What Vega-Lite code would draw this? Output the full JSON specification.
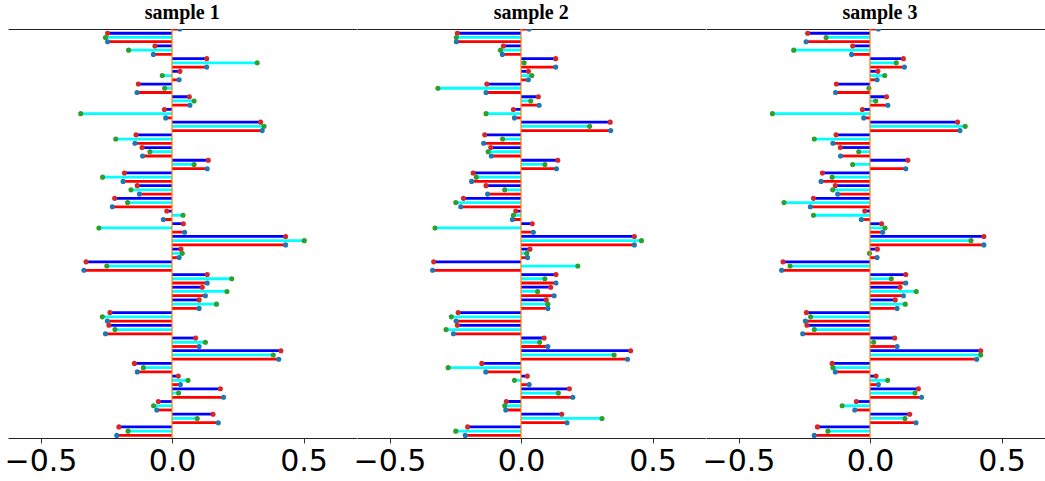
{
"$schema": "https://vega.github.io/schema/vega-lite/v6.json",
"padding": {"left": 4, "top": 3, "right": 0, "bottom": 0},
"bounds": "flush",
"spacing": 0,
"config": {
  "view": {"stroke": null},
  "title": {"font": "Liberation Serif", "fontSize": 20, "fontWeight": "bold", "color": "#000000", "offset": 5, "anchor": "middle"},
  "axis": {"grid": false, "title": null, "domainColor": "#222222", "domainWidth": 1, "tickColor": "#333333"}
},
"datasets": {"d": [
{"s":1,"f":0,"m":"m3","v":0.030},
{"s":1,"f":1,"m":"m1","v":-0.245},{"s":1,"f":1,"m":"m2","v":-0.253},{"s":1,"f":1,"m":"m3","v":-0.245},
{"s":1,"f":2,"m":"m1","v":-0.065},{"s":1,"f":2,"m":"m2","v":-0.165},{"s":1,"f":2,"m":"m3","v":-0.071},
{"s":1,"f":3,"m":"m1","v":0.132},{"s":1,"f":3,"m":"m2","v":0.324},{"s":1,"f":3,"m":"m3","v":0.132},
{"s":1,"f":4,"m":"m1","v":0.030},{"s":1,"f":4,"m":"m2","v":-0.037},{"s":1,"f":4,"m":"m3","v":0.027},
{"s":1,"f":5,"m":"m1","v":-0.128},{"s":1,"f":5,"m":"m2","v":-0.028},{"s":1,"f":5,"m":"m3","v":-0.133},
{"s":1,"f":6,"m":"m1","v":0.066},{"s":1,"f":6,"m":"m2","v":0.084},{"s":1,"f":6,"m":"m3","v":0.068},
{"s":1,"f":7,"m":"m1","v":-0.029},{"s":1,"f":7,"m":"m2","v":-0.347},{"s":1,"f":7,"m":"m3","v":-0.024},
{"s":1,"f":8,"m":"m1","v":0.337},{"s":1,"f":8,"m":"m2","v":0.350},{"s":1,"f":8,"m":"m3","v":0.343},
{"s":1,"f":9,"m":"m1","v":-0.137},{"s":1,"f":9,"m":"m2","v":-0.214},{"s":1,"f":9,"m":"m3","v":-0.141},
{"s":1,"f":10,"m":"m1","v":-0.114},{"s":1,"f":10,"m":"m2","v":-0.084},{"s":1,"f":10,"m":"m3","v":-0.112},
{"s":1,"f":11,"m":"m1","v":0.138},{"s":1,"f":11,"m":"m2","v":0.084},{"s":1,"f":11,"m":"m3","v":0.134},
{"s":1,"f":12,"m":"m1","v":-0.181},{"s":1,"f":12,"m":"m2","v":-0.264},{"s":1,"f":12,"m":"m3","v":-0.186},
{"s":1,"f":13,"m":"m1","v":-0.132},{"s":1,"f":13,"m":"m2","v":-0.156},{"s":1,"f":13,"m":"m3","v":-0.124},
{"s":1,"f":14,"m":"m1","v":-0.218},{"s":1,"f":14,"m":"m2","v":-0.169},{"s":1,"f":14,"m":"m3","v":-0.227},
{"s":1,"f":15,"m":"m1","v":-0.020},{"s":1,"f":15,"m":"m2","v":0.042},{"s":1,"f":15,"m":"m3","v":-0.033},
{"s":1,"f":16,"m":"m1","v":0.043},{"s":1,"f":16,"m":"m2","v":-0.278},{"s":1,"f":16,"m":"m3","v":0.048},
{"s":1,"f":17,"m":"m1","v":0.432},{"s":1,"f":17,"m":"m2","v":0.503},{"s":1,"f":17,"m":"m3","v":0.432},
{"s":1,"f":18,"m":"m1","v":0.034},{"s":1,"f":18,"m":"m2","v":0.039},{"s":1,"f":18,"m":"m3","v":0.027},
{"s":1,"f":19,"m":"m1","v":-0.327},{"s":1,"f":19,"m":"m2","v":-0.248},{"s":1,"f":19,"m":"m3","v":-0.335},
{"s":1,"f":20,"m":"m1","v":0.134},{"s":1,"f":20,"m":"m2","v":0.227},{"s":1,"f":20,"m":"m3","v":0.134},
{"s":1,"f":21,"m":"m1","v":0.115},{"s":1,"f":21,"m":"m2","v":0.209},{"s":1,"f":21,"m":"m3","v":0.127},
{"s":1,"f":22,"m":"m1","v":0.103},{"s":1,"f":22,"m":"m2","v":0.169},{"s":1,"f":22,"m":"m3","v":0.103},
{"s":1,"f":23,"m":"m1","v":-0.236},{"s":1,"f":23,"m":"m2","v":-0.265},{"s":1,"f":23,"m":"m3","v":-0.246},
{"s":1,"f":24,"m":"m1","v":-0.240},{"s":1,"f":24,"m":"m2","v":-0.217},{"s":1,"f":24,"m":"m3","v":-0.253},
{"s":1,"f":25,"m":"m1","v":0.090},{"s":1,"f":25,"m":"m2","v":0.127},{"s":1,"f":25,"m":"m3","v":0.103},
{"s":1,"f":26,"m":"m1","v":0.414},{"s":1,"f":26,"m":"m2","v":0.385},{"s":1,"f":26,"m":"m3","v":0.406},
{"s":1,"f":27,"m":"m1","v":-0.143},{"s":1,"f":27,"m":"m2","v":-0.109},{"s":1,"f":27,"m":"m3","v":-0.132},
{"s":1,"f":28,"m":"m1","v":0.024},{"s":1,"f":28,"m":"m2","v":0.061},{"s":1,"f":28,"m":"m3","v":0.032},
{"s":1,"f":29,"m":"m1","v":0.184},{"s":1,"f":29,"m":"m2","v":0.025},{"s":1,"f":29,"m":"m3","v":0.196},
{"s":1,"f":30,"m":"m1","v":-0.052},{"s":1,"f":30,"m":"m2","v":-0.070},{"s":1,"f":30,"m":"m3","v":-0.058},
{"s":1,"f":31,"m":"m1","v":0.156},{"s":1,"f":31,"m":"m2","v":0.096},{"s":1,"f":31,"m":"m3","v":0.176},
{"s":1,"f":32,"m":"m1","v":-0.202},{"s":1,"f":32,"m":"m2","v":-0.167},{"s":1,"f":32,"m":"m3","v":-0.210},
{"s":2,"f":0,"m":"m3","v":0.031},
{"s":2,"f":1,"m":"m1","v":-0.242},{"s":2,"f":1,"m":"m2","v":-0.246},{"s":2,"f":1,"m":"m3","v":-0.246},
{"s":2,"f":2,"m":"m1","v":-0.067},{"s":2,"f":2,"m":"m2","v":-0.078},{"s":2,"f":2,"m":"m3","v":-0.071},
{"s":2,"f":3,"m":"m1","v":0.132},{"s":2,"f":3,"m":"m2","v":0.012},{"s":2,"f":3,"m":"m3","v":0.132},
{"s":2,"f":4,"m":"m1","v":0.028},{"s":2,"f":4,"m":"m2","v":0.041},{"s":2,"f":4,"m":"m3","v":0.028},
{"s":2,"f":5,"m":"m1","v":-0.130},{"s":2,"f":5,"m":"m2","v":-0.316},{"s":2,"f":5,"m":"m3","v":-0.133},
{"s":2,"f":6,"m":"m1","v":0.066},{"s":2,"f":6,"m":"m2","v":0.037},{"s":2,"f":6,"m":"m3","v":0.069},
{"s":2,"f":7,"m":"m1","v":-0.029},{"s":2,"f":7,"m":"m2","v":-0.133},{"s":2,"f":7,"m":"m3","v":-0.025},
{"s":2,"f":8,"m":"m1","v":0.339},{"s":2,"f":8,"m":"m2","v":0.261},{"s":2,"f":8,"m":"m3","v":0.341},
{"s":2,"f":9,"m":"m1","v":-0.138},{"s":2,"f":9,"m":"m2","v":-0.070},{"s":2,"f":9,"m":"m3","v":-0.142},
{"s":2,"f":10,"m":"m1","v":-0.115},{"s":2,"f":10,"m":"m2","v":-0.125},{"s":2,"f":10,"m":"m3","v":-0.113},
{"s":2,"f":11,"m":"m1","v":0.140},{"s":2,"f":11,"m":"m2","v":0.091},{"s":2,"f":11,"m":"m3","v":0.135},
{"s":2,"f":12,"m":"m1","v":-0.182},{"s":2,"f":12,"m":"m2","v":-0.170},{"s":2,"f":12,"m":"m3","v":-0.188},
{"s":2,"f":13,"m":"m1","v":-0.133},{"s":2,"f":13,"m":"m2","v":-0.062},{"s":2,"f":13,"m":"m3","v":-0.127},
{"s":2,"f":14,"m":"m1","v":-0.219},{"s":2,"f":14,"m":"m2","v":-0.248},{"s":2,"f":14,"m":"m3","v":-0.229},
{"s":2,"f":15,"m":"m1","v":-0.020},{"s":2,"f":15,"m":"m2","v":-0.029},{"s":2,"f":15,"m":"m3","v":-0.033},
{"s":2,"f":16,"m":"m1","v":0.043},{"s":2,"f":16,"m":"m2","v":-0.327},{"s":2,"f":16,"m":"m3","v":0.047},
{"s":2,"f":17,"m":"m1","v":0.431},{"s":2,"f":17,"m":"m2","v":0.458},{"s":2,"f":17,"m":"m3","v":0.431},
{"s":2,"f":18,"m":"m1","v":0.034},{"s":2,"f":18,"m":"m2","v":0.022},{"s":2,"f":18,"m":"m3","v":0.025},
{"s":2,"f":19,"m":"m1","v":-0.332},{"s":2,"f":19,"m":"m2","v":0.216},{"s":2,"f":19,"m":"m3","v":-0.336},
{"s":2,"f":20,"m":"m1","v":0.133},{"s":2,"f":20,"m":"m2","v":0.091},{"s":2,"f":20,"m":"m3","v":0.133},
{"s":2,"f":21,"m":"m1","v":0.113},{"s":2,"f":21,"m":"m2","v":0.063},{"s":2,"f":21,"m":"m3","v":0.126},
{"s":2,"f":22,"m":"m1","v":0.096},{"s":2,"f":22,"m":"m2","v":0.102},{"s":2,"f":22,"m":"m3","v":0.102},
{"s":2,"f":23,"m":"m1","v":-0.239},{"s":2,"f":23,"m":"m2","v":-0.265},{"s":2,"f":23,"m":"m3","v":-0.247},
{"s":2,"f":24,"m":"m1","v":-0.242},{"s":2,"f":24,"m":"m2","v":-0.285},{"s":2,"f":24,"m":"m3","v":-0.257},
{"s":2,"f":25,"m":"m1","v":0.088},{"s":2,"f":25,"m":"m2","v":0.071},{"s":2,"f":25,"m":"m3","v":0.102},
{"s":2,"f":26,"m":"m1","v":0.417},{"s":2,"f":26,"m":"m2","v":0.354},{"s":2,"f":26,"m":"m3","v":0.405},
{"s":2,"f":27,"m":"m1","v":-0.149},{"s":2,"f":27,"m":"m2","v":-0.277},{"s":2,"f":27,"m":"m3","v":-0.134},
{"s":2,"f":28,"m":"m1","v":0.024},{"s":2,"f":28,"m":"m2","v":-0.025},{"s":2,"f":28,"m":"m3","v":0.031},
{"s":2,"f":29,"m":"m1","v":0.184},{"s":2,"f":29,"m":"m2","v":0.142},{"s":2,"f":29,"m":"m3","v":0.197},
{"s":2,"f":30,"m":"m1","v":-0.056},{"s":2,"f":30,"m":"m2","v":-0.062},{"s":2,"f":30,"m":"m3","v":-0.058},
{"s":2,"f":31,"m":"m1","v":0.155},{"s":2,"f":31,"m":"m2","v":0.308},{"s":2,"f":31,"m":"m3","v":0.175},
{"s":2,"f":32,"m":"m1","v":-0.203},{"s":2,"f":32,"m":"m2","v":-0.248},{"s":2,"f":32,"m":"m3","v":-0.212},
{"s":3,"f":0,"m":"m3","v":0.032},
{"s":3,"f":1,"m":"m1","v":-0.237},{"s":3,"f":1,"m":"m2","v":-0.167},{"s":3,"f":1,"m":"m3","v":-0.243},
{"s":3,"f":2,"m":"m1","v":-0.066},{"s":3,"f":2,"m":"m2","v":-0.290},{"s":3,"f":2,"m":"m3","v":-0.070},
{"s":3,"f":3,"m":"m1","v":0.127},{"s":3,"f":3,"m":"m2","v":0.100},{"s":3,"f":3,"m":"m3","v":0.131},
{"s":3,"f":4,"m":"m1","v":0.030},{"s":3,"f":4,"m":"m2","v":0.056},{"s":3,"f":4,"m":"m3","v":0.027},
{"s":3,"f":5,"m":"m1","v":-0.128},{"s":3,"f":5,"m":"m2","v":-0.004},{"s":3,"f":5,"m":"m3","v":-0.131},
{"s":3,"f":6,"m":"m1","v":0.063},{"s":3,"f":6,"m":"m2","v":0.022},{"s":3,"f":6,"m":"m3","v":0.068},
{"s":3,"f":7,"m":"m1","v":-0.029},{"s":3,"f":7,"m":"m2","v":-0.371},{"s":3,"f":7,"m":"m3","v":-0.024},
{"s":3,"f":8,"m":"m1","v":0.333},{"s":3,"f":8,"m":"m2","v":0.362},{"s":3,"f":8,"m":"m3","v":0.342},
{"s":3,"f":9,"m":"m1","v":-0.129},{"s":3,"f":9,"m":"m2","v":-0.212},{"s":3,"f":9,"m":"m3","v":-0.141},
{"s":3,"f":10,"m":"m1","v":-0.113},{"s":3,"f":10,"m":"m2","v":-0.043},{"s":3,"f":10,"m":"m3","v":-0.112},
{"s":3,"f":11,"m":"m1","v":0.144},{"s":3,"f":11,"m":"m2","v":-0.066},{"s":3,"f":11,"m":"m3","v":0.136},
{"s":3,"f":12,"m":"m1","v":-0.181},{"s":3,"f":12,"m":"m2","v":-0.144},{"s":3,"f":12,"m":"m3","v":-0.186},
{"s":3,"f":13,"m":"m1","v":-0.132},{"s":3,"f":13,"m":"m2","v":-0.142},{"s":3,"f":13,"m":"m3","v":-0.123},
{"s":3,"f":14,"m":"m1","v":-0.215},{"s":3,"f":14,"m":"m2","v":-0.327},{"s":3,"f":14,"m":"m3","v":-0.227},
{"s":3,"f":15,"m":"m1","v":-0.020},{"s":3,"f":15,"m":"m2","v":-0.215},{"s":3,"f":15,"m":"m3","v":-0.033},
{"s":3,"f":16,"m":"m1","v":0.044},{"s":3,"f":16,"m":"m2","v":0.057},{"s":3,"f":16,"m":"m3","v":0.048},
{"s":3,"f":17,"m":"m1","v":0.433},{"s":3,"f":17,"m":"m2","v":0.384},{"s":3,"f":17,"m":"m3","v":0.433},
{"s":3,"f":18,"m":"m1","v":0.028},{"s":3,"f":18,"m":"m2","v":-0.002},{"s":3,"f":18,"m":"m3","v":0.027},
{"s":3,"f":19,"m":"m1","v":-0.331},{"s":3,"f":19,"m":"m2","v":-0.304},{"s":3,"f":19,"m":"m3","v":-0.336},
{"s":3,"f":20,"m":"m1","v":0.136},{"s":3,"f":20,"m":"m2","v":0.081},{"s":3,"f":20,"m":"m3","v":0.136},
{"s":3,"f":21,"m":"m1","v":0.114},{"s":3,"f":21,"m":"m2","v":0.176},{"s":3,"f":21,"m":"m3","v":0.127},
{"s":3,"f":22,"m":"m1","v":0.096},{"s":3,"f":22,"m":"m2","v":0.134},{"s":3,"f":22,"m":"m3","v":0.103},
{"s":3,"f":23,"m":"m1","v":-0.242},{"s":3,"f":23,"m":"m2","v":-0.226},{"s":3,"f":23,"m":"m3","v":-0.246},
{"s":3,"f":24,"m":"m1","v":-0.240},{"s":3,"f":24,"m":"m2","v":-0.212},{"s":3,"f":24,"m":"m3","v":-0.256},
{"s":3,"f":25,"m":"m1","v":0.094},{"s":3,"f":25,"m":"m2","v":0.014},{"s":3,"f":25,"m":"m3","v":0.103},
{"s":3,"f":26,"m":"m1","v":0.421},{"s":3,"f":26,"m":"m2","v":0.421},{"s":3,"f":26,"m":"m3","v":0.406},
{"s":3,"f":27,"m":"m1","v":-0.144},{"s":3,"f":27,"m":"m2","v":-0.141},{"s":3,"f":27,"m":"m3","v":-0.132},
{"s":3,"f":28,"m":"m1","v":0.023},{"s":3,"f":28,"m":"m2","v":0.067},{"s":3,"f":28,"m":"m3","v":0.032},
{"s":3,"f":29,"m":"m1","v":0.184},{"s":3,"f":29,"m":"m2","v":0.171},{"s":3,"f":29,"m":"m3","v":0.196},
{"s":3,"f":30,"m":"m1","v":-0.052},{"s":3,"f":30,"m":"m2","v":-0.106},{"s":3,"f":30,"m":"m3","v":-0.058},
{"s":3,"f":31,"m":"m1","v":0.151},{"s":3,"f":31,"m":"m2","v":0.133},{"s":3,"f":31,"m":"m3","v":0.175},
{"s":3,"f":32,"m":"m1","v":-0.200},{"s":3,"f":32,"m":"m2","v":-0.160},{"s":3,"f":32,"m":"m3","v":-0.212}
]},
"hconcat": [
{
 "width": 348.4, "height": 409,
 "title": {"text": "sample 1"},
 "layer": [
  {"data": {"name": "d"}, "transform": [{"filter": "datum.s == 1"}],
   "mark": {"type": "bar", "clip": true},
   "encoding": {
    "y": {"field": "f", "type": "ordinal", "scale": {"domain": [0,1,2,3,4,5,6,7,8,9,10,11,12,13,14,15,16,17,18,19,20,21,22,23,24,25,26,27,28,29,30,31,32], "range": [-10.58, 408.5], "paddingInner": 0, "paddingOuter": 0}, "axis": null},
    "yOffset": {"field": "m", "type": "nominal", "scale": {"domain": ["m1","m2","m3"], "paddingInner": 0.34, "paddingOuter": 0.17}},
    "x": {"field": "v", "type": "quantitative", "stack": null, "scale": {"domain": [-0.6236, 0.7011], "nice": false, "zero": false}, "axis": {"orient": "bottom", "values": [-0.5, 0, 0.5], "format": ".1f", "labelFont": "DejaVu Sans", "labelFontSize": 30, "labelColor": "#000000", "tickSize": 5, "labelPadding": 3, "labelFlush": false, "labelOverlap": false}},
    "x2": {"datum": 0},
    "color": {"field": "m", "type": "nominal", "scale": {"domain": ["m1","m2","m3"], "range": ["#0000ff", "#00ffff", "#ff0000"]}, "legend": null}
   }},
  {"data": {"name": "d"}, "transform": [{"filter": "datum.s == 1"}],
   "mark": {"type": "point", "filled": true, "size": 26, "opacity": 1, "clip": true},
   "encoding": {
    "y": {"field": "f", "type": "ordinal", "axis": null},
    "yOffset": {"field": "m", "type": "nominal"},
    "x": {"field": "v", "type": "quantitative", "scale": {"domain": [-0.6236, 0.7011], "nice": false, "zero": false}, "axis": {"orient": "top", "labels": false, "ticks": false, "domain": true}},
    "fill": {"field": "m", "type": "nominal", "scale": {"domain": ["m1","m2","m3"], "range": ["#d62728", "#2ca02c", "#1f77b4"]}, "legend": null}
   }},
  {"data": {"values": [{"z": 0}]},
   "mark": {"type": "rule", "color": "#ff7f0e", "strokeWidth": 1.2},
   "encoding": {"x": {"field": "z", "type": "quantitative", "scale": {"domain": [-0.6236, 0.7011], "nice": false, "zero": false}, "axis": null}}}
 ],
 "resolve": {"axis": {"x": "independent"}}
},
{
 "width": 348.4, "height": 409,
 "title": {"text": "sample 2"},
 "layer": [
  {"data": {"name": "d"}, "transform": [{"filter": "datum.s == 2"}],
   "mark": {"type": "bar", "clip": true},
   "encoding": {
    "y": {"field": "f", "type": "ordinal", "scale": {"domain": [0,1,2,3,4,5,6,7,8,9,10,11,12,13,14,15,16,17,18,19,20,21,22,23,24,25,26,27,28,29,30,31,32], "range": [-10.58, 408.5], "paddingInner": 0, "paddingOuter": 0}, "axis": null},
    "yOffset": {"field": "m", "type": "nominal", "scale": {"domain": ["m1","m2","m3"], "paddingInner": 0.34, "paddingOuter": 0.17}},
    "x": {"field": "v", "type": "quantitative", "stack": null, "scale": {"domain": [-0.6236, 0.7011], "nice": false, "zero": false}, "axis": {"orient": "bottom", "values": [-0.5, 0, 0.5], "format": ".1f", "labelFont": "DejaVu Sans", "labelFontSize": 30, "labelColor": "#000000", "tickSize": 5, "labelPadding": 3, "labelFlush": false, "labelOverlap": false}},
    "x2": {"datum": 0},
    "color": {"field": "m", "type": "nominal", "scale": {"domain": ["m1","m2","m3"], "range": ["#0000ff", "#00ffff", "#ff0000"]}, "legend": null}
   }},
  {"data": {"name": "d"}, "transform": [{"filter": "datum.s == 2"}],
   "mark": {"type": "point", "filled": true, "size": 26, "opacity": 1, "clip": true},
   "encoding": {
    "y": {"field": "f", "type": "ordinal", "axis": null},
    "yOffset": {"field": "m", "type": "nominal"},
    "x": {"field": "v", "type": "quantitative", "scale": {"domain": [-0.6236, 0.7011], "nice": false, "zero": false}, "axis": {"orient": "top", "labels": false, "ticks": false, "domain": true}},
    "fill": {"field": "m", "type": "nominal", "scale": {"domain": ["m1","m2","m3"], "range": ["#d62728", "#2ca02c", "#1f77b4"]}, "legend": null}
   }},
  {"data": {"values": [{"z": 0}]},
   "mark": {"type": "rule", "color": "#ff7f0e", "strokeWidth": 1.2},
   "encoding": {"x": {"field": "z", "type": "quantitative", "scale": {"domain": [-0.6236, 0.7011], "nice": false, "zero": false}, "axis": null}}}
 ],
 "resolve": {"axis": {"x": "independent"}}
},
{
 "width": 340, "height": 409,
 "title": {"text": "sample 3", "dx": 4},
 "layer": [
  {"data": {"name": "d"}, "transform": [{"filter": "datum.s == 3"}],
   "mark": {"type": "bar", "clip": true},
   "encoding": {
    "y": {"field": "f", "type": "ordinal", "scale": {"domain": [0,1,2,3,4,5,6,7,8,9,10,11,12,13,14,15,16,17,18,19,20,21,22,23,24,25,26,27,28,29,30,31,32], "range": [-10.58, 408.5], "paddingInner": 0, "paddingOuter": 0}, "axis": null},
    "yOffset": {"field": "m", "type": "nominal", "scale": {"domain": ["m1","m2","m3"], "paddingInner": 0.34, "paddingOuter": 0.17}},
    "x": {"field": "v", "type": "quantitative", "stack": null, "scale": {"domain": [-0.6236, 0.6692], "nice": false, "zero": false}, "axis": {"orient": "bottom", "values": [-0.5, 0, 0.5], "format": ".1f", "labelFont": "DejaVu Sans", "labelFontSize": 30, "labelColor": "#000000", "tickSize": 5, "labelPadding": 3, "labelFlush": false, "labelOverlap": false}},
    "x2": {"datum": 0},
    "color": {"field": "m", "type": "nominal", "scale": {"domain": ["m1","m2","m3"], "range": ["#0000ff", "#00ffff", "#ff0000"]}, "legend": null}
   }},
  {"data": {"name": "d"}, "transform": [{"filter": "datum.s == 3"}],
   "mark": {"type": "point", "filled": true, "size": 26, "opacity": 1, "clip": true},
   "encoding": {
    "y": {"field": "f", "type": "ordinal", "axis": null},
    "yOffset": {"field": "m", "type": "nominal"},
    "x": {"field": "v", "type": "quantitative", "scale": {"domain": [-0.6236, 0.6692], "nice": false, "zero": false}, "axis": {"orient": "top", "labels": false, "ticks": false, "domain": true}},
    "fill": {"field": "m", "type": "nominal", "scale": {"domain": ["m1","m2","m3"], "range": ["#d62728", "#2ca02c", "#1f77b4"]}, "legend": null}
   }},
  {"data": {"values": [{"z": 0}]},
   "mark": {"type": "rule", "color": "#ff7f0e", "strokeWidth": 1.2},
   "encoding": {"x": {"field": "z", "type": "quantitative", "scale": {"domain": [-0.6236, 0.6692], "nice": false, "zero": false}, "axis": null}}}
 ],
 "resolve": {"axis": {"x": "independent"}}
}
]
}
